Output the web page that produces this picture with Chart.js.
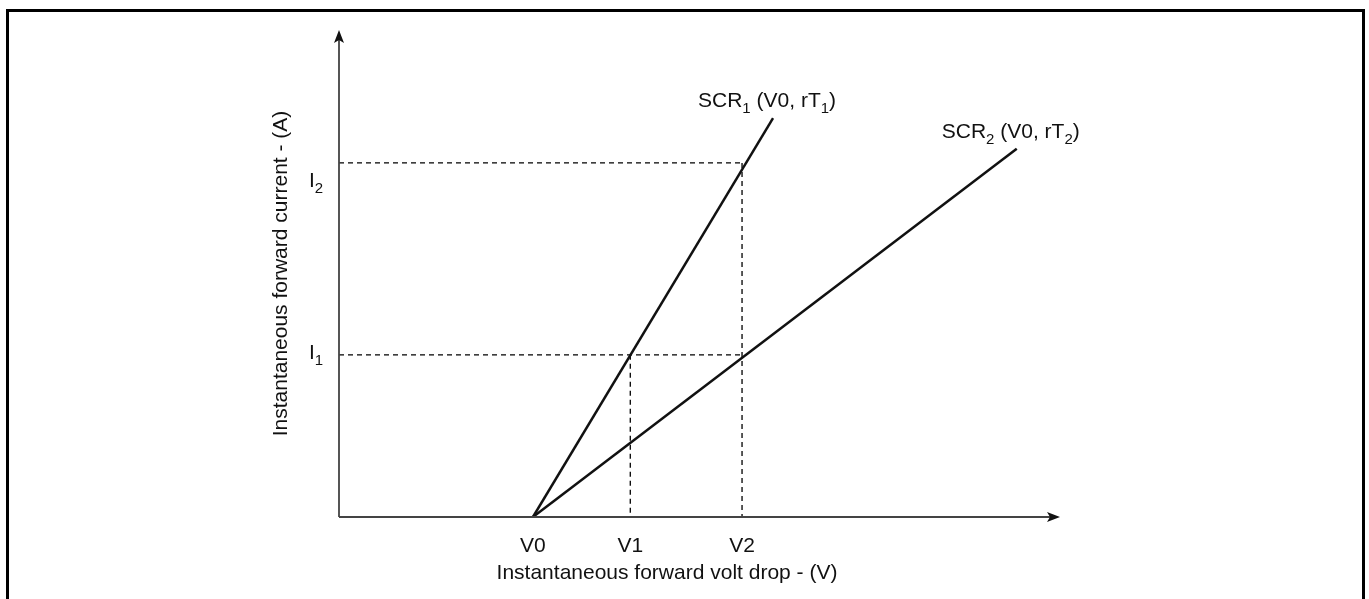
<!DOCTYPE html>
<html>
<head>
<meta charset="utf-8">
<script src="https://cdn.jsdelivr.net/npm/chart.js@4.4.1/dist/chart.umd.min.js"></script>
<style>
  html, body { margin: 0; padding: 0; background: #fff; }
  #wrap { width: 1369px; height: 599px; position: relative; }
</style>
</head>
<body>
<div id="wrap"><canvas id="chart"></canvas></div>
<script>
// values (arbitrary units, axis 0..100)
const xTickLabels = ["V0", "V1", "V2"];
const xTickValues = [26.9, 40.4, 55.9];
const yTickLabels = [["I", "1"], ["I", "2"]];
const yTickValues = [33.3, 72.7];

const scr1X = [26.9, 60.2];
const scr1Y = [0, 81.9];
const scr2X = [26.9, 94.0];
const scr2Y = [0, 75.6];

const seriesLabels = [
  ["SCR", "1", " (V0, rT", "1", ")"],
  ["SCR", "2", " (V0, rT", "2", ")"]
];

const xTitle = "Instantaneous forward volt drop - (V)";
const yTitle = "Instantaneous forward current - (A)";

const FONT = "'Liberation Sans', Arial, sans-serif";
const SIZE = 21;
const yLabelShift = [-3, 17]; // I1 sits on its line, I2 a bit below

function pts(xs, ys) {
  return xs.map((x, i) => ({ x: x, y: ys[i] }));
}

// dashed guide lines built from the tick values
const V0 = xTickValues[0], V1 = xTickValues[1], V2 = xTickValues[2];
const I1 = yTickValues[0], I2 = yTickValues[1];
const guide = {
  borderColor: "#000",
  borderWidth: 1.3,
  borderDash: [5, 4],
  pointRadius: 0,
  fill: false
};

// draw text with subscripts: parts alternate normal / sub
function drawRich(ctx, parts, x, y, size, align) {
  const subSize = Math.round(size * 0.72);
  let widths = parts.map((p, i) => {
    ctx.font = (i % 2 ? subSize : size) + "px " + FONT;
    return ctx.measureText(p).width;
  });
  let total = widths.reduce((a, b) => a + b, 0);
  let cx = align === "center" ? x - total / 2 : x;
  ctx.textAlign = "left";
  ctx.textBaseline = "alphabetic";
  parts.forEach((p, i) => {
    ctx.font = (i % 2 ? subSize : size) + "px " + FONT;
    ctx.fillText(p, cx, i % 2 ? y + size * 0.3 : y);
    cx += widths[i];
  });
}

const decor = {
  id: "decor",
  beforeDraw(chart) {
    const ctx = chart.ctx;
    ctx.save();
    ctx.fillStyle = "#fff";
    ctx.fillRect(0, 0, chart.width, chart.height);
    ctx.restore();
  },
  afterDraw(chart) {
    const ctx = chart.ctx;
    const a = chart.chartArea;
    const xs = chart.scales.x, ys = chart.scales.y;
    const x0 = xs.getPixelForValue(0), y0 = ys.getPixelForValue(0);
    ctx.save();

    // frame
    ctx.strokeStyle = "#000";
    ctx.lineWidth = 3;
    ctx.strokeRect(7.5, 10.5, 1356, 640);

    // axes with arrows
    ctx.strokeStyle = "#444";
    ctx.fillStyle = "#111";
    ctx.lineWidth = 1.8;
    ctx.beginPath();
    ctx.moveTo(x0, y0);
    ctx.lineTo(x0, a.top + 8);
    ctx.moveTo(x0, y0);
    ctx.lineTo(a.right - 8, y0);
    ctx.stroke();
    ctx.beginPath();
    ctx.moveTo(x0, a.top);
    ctx.lineTo(x0 - 5, a.top + 13);
    ctx.lineTo(x0, a.top + 10);
    ctx.lineTo(x0 + 5, a.top + 13);
    ctx.closePath();
    ctx.fill();
    ctx.beginPath();
    ctx.moveTo(a.right, y0);
    ctx.lineTo(a.right - 13, y0 - 5);
    ctx.lineTo(a.right - 10, y0);
    ctx.lineTo(a.right - 13, y0 + 5);
    ctx.closePath();
    ctx.fill();

    ctx.fillStyle = "#111";
    // x tick labels
    ctx.font = SIZE + "px " + FONT;
    ctx.textAlign = "center";
    ctx.textBaseline = "middle";
    xTickValues.forEach((v, i) => {
      ctx.fillText(xTickLabels[i], xs.getPixelForValue(v), y0 + 29);
    });
    // y tick labels
    yTickValues.forEach((v, i) => {
      drawRich(ctx, yTickLabels[i], x0 - 30, ys.getPixelForValue(v) + 7 + yLabelShift[i], SIZE, "left");
    });

    // axis titles
    ctx.font = SIZE + "px " + FONT;
    ctx.textAlign = "center";
    ctx.textBaseline = "middle";
    ctx.fillText(xTitle, 667, y0 + 56);
    ctx.save();
    ctx.translate(281, (a.top + a.bottom) / 2);
    ctx.rotate(-Math.PI / 2);
    ctx.fillText(yTitle, 0, 0);
    ctx.restore();

    // series labels at the line ends
    [0, 1].forEach(i => {
      const meta = chart.getDatasetMeta(i);
      const last = meta.data[meta.data.length - 1];
      drawRich(ctx, seriesLabels[i], last.x - 6, last.y - 11, SIZE, "center");
    });

    ctx.restore();
  }
};

new Chart(document.getElementById("chart"), {
  type: "line",
  data: {
    datasets: [
      { label: "SCR1", data: pts(scr1X, scr1Y), borderColor: "#111", borderWidth: 2.5, pointRadius: 0, fill: false },
      { label: "SCR2", data: pts(scr2X, scr2Y), borderColor: "#111", borderWidth: 2.5, pointRadius: 0, fill: false },
      Object.assign({ label: "I2 h", data: [{ x: 0, y: I2 }, { x: V2, y: I2 }] }, guide),
      Object.assign({ label: "I1 h", data: [{ x: 0, y: I1 }, { x: V2, y: I1 }] }, guide),
      Object.assign({ label: "V1 v", data: [{ x: V1, y: I1 }, { x: V1, y: 0 }] }, guide),
      Object.assign({ label: "V2 v", data: [{ x: V2, y: I2 }, { x: V2, y: 0 }] }, guide)
    ]
  },
  options: {
    responsive: true,
    maintainAspectRatio: false,
    animation: false,
    layout: { padding: { left: 339, right: 309, top: 30, bottom: 82 } },
    plugins: {
      legend: { display: false },
      tooltip: { enabled: false }
    },
    scales: {
      x: { type: "linear", min: 0, max: 100, display: false },
      y: { type: "linear", min: 0, max: 100, display: false }
    }
  },
  plugins: [decor]
});
</script>
</body>
</html>
